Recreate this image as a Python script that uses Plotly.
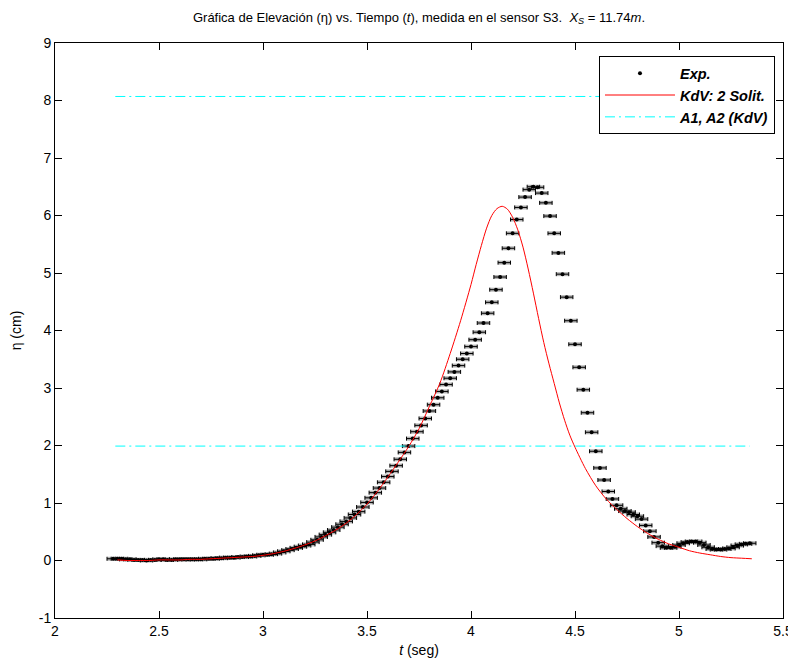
import plotly.graph_objects as go

# Experimental data (sensor S3)
t_exp = [2.28, 2.30, 2.32, 2.34, 2.36, 2.38, 2.40, 2.42, 2.44, 2.46, 2.48, 2.50,
         2.52, 2.54, 2.56, 2.58, 2.60, 2.62, 2.64, 2.66, 2.68, 2.70, 2.72, 2.74,
         2.76, 2.78, 2.80, 2.82, 2.84, 2.86, 2.88, 2.90, 2.92, 2.94, 2.96, 2.98,
         3.00, 3.02, 3.04, 3.06, 3.08, 3.10, 3.12, 3.14, 3.16, 3.18, 3.20, 3.22,
         3.24, 3.26, 3.28, 3.30, 3.32, 3.34, 3.36, 3.38, 3.40, 3.42, 3.44, 3.46,
         3.48, 3.50, 3.52, 3.54, 3.56, 3.58, 3.60, 3.62, 3.64, 3.66, 3.68, 3.70,
         3.72, 3.74, 3.76, 3.78, 3.80, 3.82, 3.84, 3.86, 3.88, 3.90, 3.92, 3.94,
         3.96, 3.98, 4.00, 4.02, 4.04, 4.06, 4.08, 4.10, 4.12, 4.14, 4.16, 4.18,
         4.20, 4.22, 4.24, 4.26, 4.28, 4.30, 4.32, 4.34, 4.36, 4.38, 4.40, 4.42,
         4.44, 4.46, 4.48, 4.50, 4.52, 4.54, 4.56, 4.58, 4.60, 4.62, 4.64, 4.66,
         4.68, 4.70, 4.72, 4.74, 4.76, 4.78, 4.80, 4.82, 4.84, 4.86, 4.88, 4.90,
         4.92, 4.94, 4.96, 4.98, 5.00, 5.02, 5.04, 5.06, 5.08, 5.10, 5.12, 5.14,
         5.16, 5.18, 5.20, 5.22, 5.24, 5.26, 5.28, 5.30, 5.32, 5.34]
eta_exp = [0.03, 0.03, 0.03, 0.02, 0.02, 0.01, 0.01, 0.01, 0.00, 0.01, 0.01, 0.02,
           0.02, 0.01, 0.01, 0.02, 0.02, 0.02, 0.02, 0.02, 0.02, 0.02, 0.03, 0.03,
           0.03, 0.04, 0.04, 0.05, 0.05, 0.05, 0.06, 0.06, 0.07, 0.07, 0.08, 0.09,
           0.10, 0.10, 0.11, 0.12, 0.14, 0.16, 0.18, 0.20, 0.22, 0.24, 0.26, 0.28,
           0.32, 0.36, 0.41, 0.45, 0.49, 0.53, 0.58, 0.63, 0.68, 0.74, 0.80, 0.85,
           0.93, 1.01, 1.09, 1.18, 1.26, 1.36, 1.46, 1.55, 1.65, 1.76, 1.88, 1.99,
           2.12, 2.24, 2.35, 2.47, 2.60, 2.71, 2.83, 2.94, 3.06, 3.17, 3.28, 3.39,
           3.50, 3.60, 3.72, 3.84, 3.97, 4.13, 4.30, 4.49, 4.71, 4.93, 5.18, 5.43,
           5.69, 5.93, 6.14, 6.32, 6.45, 6.50, 6.49, 6.39, 6.22, 5.99, 5.69, 5.35,
           4.98, 4.58, 4.17, 3.76, 3.36, 2.97, 2.57, 2.23, 1.90, 1.61, 1.40, 1.20,
           1.07, 0.96, 0.90, 0.86, 0.84, 0.80, 0.77, 0.72, 0.61, 0.51, 0.41, 0.31,
           0.25, 0.22, 0.22, 0.24, 0.27, 0.30, 0.32, 0.33, 0.33, 0.31, 0.27, 0.23,
           0.20, 0.19, 0.19, 0.20, 0.21, 0.23, 0.26, 0.28, 0.29, 0.30]
t_err = 0.03  # horizontal error half-width (s)

# KdV 2-soliton solution
t_kdv = [2.30, 2.35, 2.40, 2.45, 2.50, 2.55, 2.60, 2.65, 2.70, 2.75, 2.80, 2.85,
         2.90, 2.95, 3.00, 3.05, 3.10, 3.15, 3.20, 3.25, 3.30, 3.35, 3.40, 3.45,
         3.50, 3.55, 3.60, 3.65, 3.70, 3.75, 3.80, 3.85, 3.90, 3.95, 4.00, 4.025,
         4.05, 4.075, 4.10, 4.125, 4.15, 4.175, 4.20, 4.225, 4.25, 4.275, 4.30,
         4.325, 4.35, 4.375, 4.40, 4.425, 4.45, 4.475, 4.50, 4.55, 4.60, 4.65,
         4.70, 4.75, 4.80, 4.85, 4.90, 4.95, 5.00, 5.05, 5.10, 5.15, 5.20, 5.25,
         5.30, 5.35]
eta_kdv = [0.01, 0.00, 0.00, 0.00, 0.01, 0.01, 0.01, 0.02, 0.02, 0.03, 0.04, 0.05,
           0.06, 0.07, 0.09, 0.12, 0.16, 0.21, 0.27, 0.34, 0.43, 0.53, 0.65, 0.80,
           0.98, 1.20, 1.45, 1.71, 1.98, 2.29, 2.68, 3.08, 3.60, 4.17, 4.80, 5.15,
           5.48, 5.78, 6.00, 6.12, 6.16, 6.11, 5.97, 5.75, 5.45, 5.07, 4.65,
           4.21, 3.79, 3.42, 3.08, 2.74, 2.44, 2.18, 1.97, 1.60, 1.30, 1.07,
           0.89, 0.73, 0.59, 0.47, 0.37, 0.29, 0.23, 0.17, 0.13, 0.10, 0.07, 0.05,
           0.04, 0.03]

# Amplitudes A1, A2 (KdV)
amp_levels = [8.07, 1.99]
amp_span = [2.29, 5.34]

FONT = "Liberation Sans, Arial, sans-serif"

fig = go.Figure()

# grey shadow of error bars
fig.add_trace(go.Scatter(
    x=t_exp, y=eta_exp, mode="markers",
    marker=dict(size=1, color="rgba(0,0,0,0)"),
    error_x=dict(type="constant", value=t_err, color="#b4b4b4", thickness=4, width=0),
    showlegend=False, hoverinfo="skip"))

fig.add_trace(go.Scatter(
    x=t_exp, y=eta_exp, mode="markers", name="Exp.",
    marker=dict(size=4, color="black"),
    error_x=dict(type="constant", value=t_err, color="black", thickness=1, width=2)))

fig.add_trace(go.Scatter(
    x=t_kdv, y=eta_kdv, mode="lines", name="KdV: 2 Solit.",
    line=dict(color="#ff0000", width=1, shape="spline", smoothing=0.8)))

cx, cy = [], []
for lv in amp_levels:
    cx += [amp_span[0], amp_span[1], None]
    cy += [lv, lv, None]
fig.add_trace(go.Scatter(
    x=cx, y=cy, mode="lines", name="A1, A2 (KdV)",
    line=dict(color="#00ffff", width=1, dash="10px,4px,2px,4px")))

axis_common = dict(
    showgrid=False, zeroline=False, showline=True, linecolor="black", linewidth=1,
    mirror="allticks", ticks="inside", ticklen=7, tickcolor="black", automargin=False,
    tickfont=dict(family=FONT, size=14, color="black"))

fig.update_xaxes(range=[2, 5.5], tickvals=[2, 2.5, 3, 3.5, 4, 4.5, 5, 5.5],
                 ticktext=["2", "2.5", "3", "3.5", "4", "4.5", "5", "5.5"],
                 title=dict(text="<i>t</i> (seg)", font=dict(family=FONT, size=14, color="black"),
                            standoff=10),
                 **axis_common)
fig.update_yaxes(range=[-1, 9], tickvals=list(range(-1, 10)),
                 ticktext=[str(v) for v in range(-1, 10)],
                 title=dict(text="η (cm)", font=dict(family=FONT, size=14, color="black"),
                            standoff=14),
                 **axis_common)

fig.update_layout(
    width=788, height=650,
    margin=dict(l=47, r=13, t=35, b=40, autoexpand=False),
    paper_bgcolor="white", plot_bgcolor="white",
    title=dict(text="Gráfica de Elevación (η) vs. Tiempo (<i>t</i>), medida en el sensor S3.  "
                    "<i>X</i><sub><i>S</i></sub> = 11.74<i>m</i>.",
               x=0.5, xref="paper", y=1 - 9 / 650, yref="container", yanchor="middle",
               font=dict(family=FONT, size=13, color="black"), automargin=False),
    legend=dict(x=0.989, y=0.977, xanchor="right", yanchor="top",
                bgcolor="white", bordercolor="black", borderwidth=1,
                font=dict(family=FONT, size=14.5, color="black", weight="bold", style="italic"),
                itemwidth=70, tracegroupgap=0),
    showlegend=True,
)

fig.write_html("out.html")
